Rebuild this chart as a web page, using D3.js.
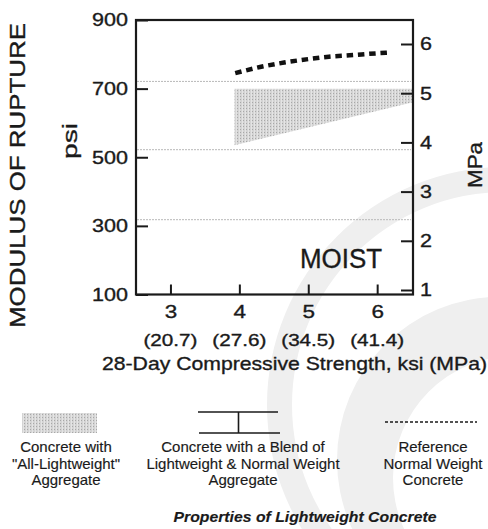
<!DOCTYPE html>
<html>
<head>
<meta charset="utf-8">
<script src="https://cdn.jsdelivr.net/npm/d3@7"></script>
<style>
  body { margin: 0; background: #fff; }
  svg text { font-family: "Liberation Sans", Arial, Helvetica, sans-serif; fill: #1a1a1a; stroke: #1a1a1a; stroke-width: 0.35px; }
  svg text.small { stroke-width: 0.15px; }
</style>
</head>
<body>
<div id="chart"></div>
<script>
// axis ticks
var ksiTicks = [3, 4, 5, 6];
var ksiMpaLabels = ["(20.7)", "(27.6)", "(34.5)", "(41.4)"];
var psiTicks = [100, 300, 500, 700, 900];
var mpaTicks = [1, 2, 3, 4, 5, 6];

// reference normal weight concrete (dashed curve)
var refKsi = [3.94, 4.3, 4.65, 5.0, 5.3, 5.6, 6.0, 6.17];
var refPsi = [745, 763, 776, 786, 793, 797, 803, 805];

// "all-lightweight" band
var lwKsi = [3.93, 6.52];
var lwTop = [700, 700];
var lwBottom = [535, 660];

// faint dotted lines across the plot
var gridPsi = [721, 522, 318];

var legendLabels = [
  ["Concrete with", "\"All-Lightweight\"", "Aggregate"],
  ["Concrete with a Blend of", "Lightweight & Normal Weight", "Aggregate"],
  ["Reference", "Normal Weight", "Concrete"]
];

var width = 488, height = 529;
var ink = "#1a1a1a";

var svg = d3.select("#chart").append("svg")
    .attr("width", width)
    .attr("height", height);

// stretch text to the width measured on the scan
function fit(sel, len) {
  sel.attr("textLength", len).attr("lengthAdjust", "spacingAndGlyphs");
  return sel;
}

function circ(p, cx, cy, r) {
  p.moveTo(cx + r, cy);
  p.arc(cx, cy, r, 0, Math.PI * 2);
  p.closePath();
}

// faint watermark behind everything
var wm = svg.append("g").attr("fill", "#efefef");
var p1 = d3.path(); circ(p1, 505, 405, 238); circ(p1, 505, 405, 213);
wm.append("path").attr("d", p1.toString()).attr("fill-rule", "evenodd");
var p2 = d3.path(); circ(p2, 500, 460, 163); circ(p2, 515, 478, 122);
wm.append("path").attr("d", p2.toString()).attr("fill-rule", "evenodd");

// stipple pattern for the lightweight band
var defs = svg.append("defs");
var pat = defs.append("pattern").attr("id", "stip")
    .attr("patternUnits", "userSpaceOnUse")
    .attr("width", 3).attr("height", 3);
pat.append("rect").attr("width", 3).attr("height", 3).attr("fill", "#d4d4d4");
pat.append("rect").attr("width", 1).attr("height", 1).attr("fill", "#a8a8a8");
pat.append("rect").attr("x", 2).attr("width", 1).attr("height", 3).attr("fill", "#e4e4e4");

var x = d3.scaleLinear().domain([2.5, 6.52]).range([136, 413]);
var y = d3.scaleLinear().domain([100, 900]).range([294.5, 20]);
var yM = d3.scaleLinear().domain([1, 6]).range([290, 44]);

// dotted grey lines
svg.selectAll(".grid").data(gridPsi).enter().append("line")
    .attr("class", "grid")
    .attr("x1", 137).attr("x2", 411)
    .attr("y1", function(d) { return y(d); })
    .attr("y2", function(d) { return y(d); })
    .attr("stroke", "#b8b8b8")
    .attr("stroke-width", 1)
    .attr("stroke-dasharray", "2,1");

// lightweight band
var idx = d3.range(lwKsi.length);
var area = d3.area()
    .x(function(i) { return x(lwKsi[i]); })
    .y0(function(i) { return y(lwBottom[i]); })
    .y1(function(i) { return y(lwTop[i]); });
svg.append("path")
    .attr("d", area(idx))
    .attr("fill", "url(#stip)");

// reference curve
var ri = d3.range(refKsi.length);
var line = d3.line()
    .x(function(i) { return x(refKsi[i]); })
    .y(function(i) { return y(refPsi[i]); })
    .curve(d3.curveMonotoneX);
svg.append("path")
    .attr("d", line(ri))
    .attr("fill", "none")
    .attr("stroke", "#111")
    .attr("stroke-width", 4.5)
    .attr("stroke-dasharray", "6.5,4.8");

// axes
var gl = svg.append("g")
    .attr("transform", "translate(136,0)")
    .call(d3.axisLeft(y).tickValues(psiTicks).tickSizeInner(-12).tickSizeOuter(0).tickPadding(8));
gl.select(".domain").remove();
gl.selectAll("line").attr("stroke", ink).attr("stroke-width", 2);
fit(gl.selectAll("text").style("font-size", "18.5px"), 36);

var gb = svg.append("g")
    .attr("transform", "translate(0,294.5)")
    .call(d3.axisBottom(x).tickValues(ksiTicks).tickSizeInner(-10).tickSizeOuter(0).tickPadding(10).tickFormat(d3.format("d")));
gb.select(".domain").remove();
gb.selectAll("line").attr("stroke", ink).attr("stroke-width", 2);
fit(gb.selectAll("text").style("font-size", "18.5px"), 12.5);

var gr = svg.append("g")
    .attr("transform", "translate(413,0)")
    .call(d3.axisRight(yM).tickValues(mpaTicks).tickSizeInner(-12).tickSizeOuter(0).tickPadding(7).tickFormat(d3.format("d")));
gr.select(".domain").remove();
gr.selectAll("line").attr("stroke", ink).attr("stroke-width", 2);
fit(gr.selectAll("text").style("font-size", "18.5px"), 12);

// MPa equivalents under the ksi ticks
fit(svg.selectAll(".ksimpa").data(ksiTicks).enter().append("text")
    .attr("class", "ksimpa")
    .attr("x", function(d) { return x(d); })
    .attr("y", 345.5)
    .attr("text-anchor", "middle")
    .style("font-size", "17px")
    .text(function(d, i) { return ksiMpaLabels[i]; }), 54);

// plot frame
svg.append("rect")
    .attr("x", 136).attr("y", 20)
    .attr("width", 277).attr("height", 274.5)
    .attr("fill", "none")
    .attr("stroke", ink)
    .attr("stroke-width", 2.2);

// titles
fit(svg.append("text")
    .attr("transform", "translate(25,175.5) rotate(-90)")
    .attr("text-anchor", "middle")
    .style("font-size", "22px")
    .text("MODULUS OF RUPTURE"), 305);

fit(svg.append("text")
    .attr("transform", "translate(77,141) rotate(-90)")
    .attr("text-anchor", "middle")
    .style("font-size", "20px")
    .text("psi"), 36);

fit(svg.append("text")
    .attr("transform", "translate(482,165) rotate(-90)")
    .attr("text-anchor", "middle")
    .style("font-size", "21px")
    .text("MPa"), 46);

fit(svg.append("text")
    .attr("x", 300).attr("y", 268.3)
    .style("font-size", "27px")
    .text("MOIST"), 82);

fit(svg.append("text")
    .attr("x", 102).attr("y", 369.5)
    .style("font-size", "18.5px")
    .text("28-Day Compressive Strength, ksi (MPa)"), 385);

// legend symbols
svg.append("rect")
    .attr("x", 22).attr("y", 413)
    .attr("width", 75).attr("height", 20)
    .attr("fill", "url(#stip)");

var blend = svg.append("g").attr("stroke", ink).attr("stroke-width", 1.6);
blend.append("line").attr("x1", 198).attr("x2", 278).attr("y1", 412).attr("y2", 412);
blend.append("line").attr("x1", 199).attr("x2", 280).attr("y1", 433).attr("y2", 433);
blend.append("line").attr("x1", 238.5).attr("x2", 238.5).attr("y1", 412).attr("y2", 433);

svg.append("line")
    .attr("x1", 385).attr("x2", 477)
    .attr("y1", 422).attr("y2", 422)
    .attr("stroke", ink)
    .attr("stroke-width", 1.6)
    .attr("stroke-dasharray", "3,2");

// legend text
var legX = [66, 243, 433];
var legY = [452, 468.5, 485];
legendLabels.forEach(function(lines, c) {
  svg.selectAll(".leg" + c).data(lines).enter().append("text")
      .attr("class", "small leg" + c)
      .attr("x", legX[c])
      .attr("y", function(d, i) { return legY[i]; })
      .attr("text-anchor", "middle")
      .style("font-size", "15px")
      .text(function(d) { return d; });
});

fit(svg.append("text")
    .attr("class", "small")
    .attr("x", 305).attr("y", 521.7)
    .attr("text-anchor", "middle")
    .style("font-size", "15.5px")
    .style("font-weight", "bold")
    .style("font-style", "italic")
    .text("Properties of Lightweight Concrete"), 263);
</script>
</body>
</html>
